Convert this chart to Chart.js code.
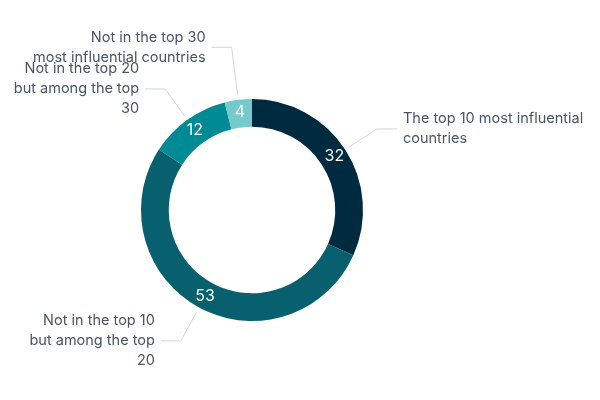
<!DOCTYPE html>
<html>
<head>
<meta charset="utf-8">
<script src="https://cdn.jsdelivr.net/npm/chart.js@4"></script>
<style>
  html, body { margin: 0; padding: 0; background: #fff; }
  #wrap { width: 600px; height: 400px; }
</style>
</head>
<body>
<div id="wrap"><canvas id="myChart" width="600" height="400"></canvas></div>
<script>
// chart data
const categories = [
  ['The top 10 most influential', 'countries'],
  ['Not in the top 10', 'but among the top', '20'],
  ['Not in the top 20', 'but among the top', '30'],
  ['Not in the top 30', 'most influential countries']
];
const values = [32, 53, 12, 4];
const colors = ['#002a40', '#08606f', '#008b94', '#74cacd'];

// extra elbow distance per label, so the small slice label clears its neighbour
const elbowExtra = [0, 0, 0, 15];

const calloutPlugin = {
  id: 'callouts',
  afterDatasetsDraw(chart) {
    const ctx = chart.ctx;
    const meta = chart.getDatasetMeta(0);
    ctx.save();
    meta.data.forEach(function (arc, i) {
      const p = arc.getProps(['x', 'y', 'startAngle', 'endAngle', 'innerRadius', 'outerRadius'], true);
      const mid = (p.startAngle + p.endAngle) / 2;
      const cos = Math.cos(mid), sin = Math.sin(mid);

      // value inside the ring
      const rv = (p.innerRadius + p.outerRadius) / 2 + 1;
      ctx.fillStyle = '#ffffff';
      ctx.font = '16px Inter, "Noto Sans", sans-serif';
      ctx.textAlign = 'center';
      ctx.textBaseline = 'middle';
      ctx.fillText(String(values[i]), p.x + rv * cos, p.y + rv * sin);

      // leader line
      const r1 = p.outerRadius + 5;
      const r2 = p.outerRadius + 38 + elbowExtra[i];
      const x1 = p.x + r1 * cos, y1 = p.y + r1 * sin;
      const x2 = p.x + r2 * cos, y2 = p.y + r2 * sin;
      const right = cos >= 0;
      const x3 = x2 + (right ? 20 : -20);
      ctx.strokeStyle = '#cfd6de';
      ctx.lineWidth = 1;
      ctx.beginPath();
      ctx.moveTo(x1, y1);
      ctx.lineTo(x2, y2);
      ctx.lineTo(x3, y2);
      ctx.stroke();

      // label text
      const lines = categories[i];
      const lh = 20;
      ctx.fillStyle = '#4a5564';
      ctx.font = '14.5px Inter, "Noto Sans", sans-serif';
      ctx.textAlign = right ? 'left' : 'right';
      const tx = x3 + (right ? 6 : -6);
      const y0 = y2 - (lines.length - 1) * lh / 2;
      lines.forEach(function (t, j) {
        ctx.fillText(t, tx, y0 + j * lh);
      });
    });
    ctx.restore();
  }
};

const data = {
  labels: categories,
  datasets: [{
    data: values,
    backgroundColor: colors,
    borderWidth: 0
  }]
};

const config = {
  type: 'doughnut',
  data: data,
  options: {
    responsive: false,
    animation: false,
    cutout: '75%',
    layout: { padding: { left: 100, right: 196, top: 99, bottom: 79 } },
    plugins: {
      legend: { display: false },
      tooltip: { enabled: false }
    }
  },
  plugins: [calloutPlugin]
};

const myChart = new Chart(document.getElementById('myChart'), config);
</script>
</body>
</html>
